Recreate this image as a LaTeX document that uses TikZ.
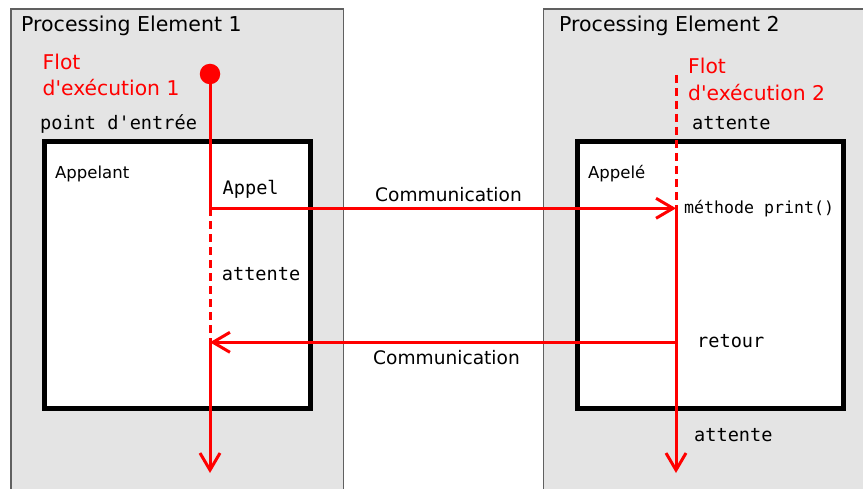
\documentclass[tikz,border=0pt]{standalone}
\usepackage{fontspec}
\setmainfont{DejaVu Sans}
\setmonofont{DejaVu Sans Mono}
\usetikzlibrary{arrows.meta, positioning, calc}
\definecolor{pegray}{HTML}{E4E4E4}
\definecolor{peborder}{HTML}{606060}

\begin{document}
\begin{tikzpicture}[x=1pt, y=-1pt, >={Straight Barb[length=17pt, width=20pt]},
  pe/.style={draw=peborder, fill=pegray, line width=1.3pt, minimum width=#1, minimum height=520pt, inner sep=0pt},
  objbox/.style={draw=black, fill=white, line width=5pt, minimum width=266.5pt, minimum height=266pt, inner sep=0pt},
  title/.style={anchor=base west, inner sep=0pt, font=\fontsize{20.5pt}{24pt}\selectfont},
  flot/.style={anchor=base west, inner sep=0pt, align=left, text=red, font=\fontsize{20.3pt}{26.5pt}\selectfont},
  objname/.style={anchor=base west, inner sep=0pt, font=\fontsize{16.5pt}{19pt}\selectfont},
  lbl/.style={anchor=base west, inner sep=0pt, font=\ttfamily\fontsize{18.6pt}{22pt}\selectfont},
  comm/.style={anchor=base west, inner sep=0pt, font=\fontsize{18.6pt}{22pt}\selectfont},
  flow/.style={draw=red, line width=3pt},
  wait/.style={flow, dash pattern=on 8pt off 5pt}]
\clip (0,0) rectangle (863,489);
% processing elements
\node[pe=332.3pt] (pe1) at (177.2,269) {};
\node[pe=360pt] (pe2) at (723.3,269) {};
\node[title] (pe1t) at (21,32) {Processing Element 1};
\node[title] (pe2t) at (559,32) {Processing Element 2};
% objets
\node[objbox] (caller) at (177.25,275) {};
\node[objbox] (callee) at (710.5,275) {};
\node[objname] (callert) at (55,179) {Appelant};
\node[objname] (calleet) at (588,179) {Appelé};
% flot 1
\node[flot] (flot1) at (42.5,95.7) {Flot\\d\textquotesingle exécution 1};
\node[circle, fill=red, minimum size=20.5pt, inner sep=0pt] (start1) at (210,74) {};
\coordinate (call1) at (210,208.3);
\coordinate (back1) at (210,342.3);
\coordinate (end1) at (210,473);
\draw[flow] (start1.center) -- (call1);
\draw[wait] (call1) -- (back1);
\draw[flow, ->] (back1) -- (end1);
% flot 2
\node[flot] (flot2) at (688,100.5) {Flot\\d\textquotesingle exécution 2};
\coordinate (top2) at (676,75);
\coordinate (recv2) at (676,208.3);
\coordinate (ret2) at (676,342.3);
\coordinate (end2) at (676,473);
\draw[wait] (top2) -- (recv2);
\draw[flow, ->] (recv2) -- (end2);
% communications
\draw[flow, ->] (call1) -- (recv2);
\draw[flow, ->] (ret2) -- (back1);
\node[comm] (comm1) at (375,201.5) {Communication};
\node[comm] (comm2) at (373,364) {Communication};
% etiquettes
\node[lbl] (entry) at (40,130) {point d'entrée};
\node[lbl] (appel) at (222.5,195) {Appel};
\node[lbl] (att1) at (221.7,280.7) {attente};
\node[lbl] (att2) at (692,130) {attente};
\node[lbl, font=\ttfamily\fontsize{16.6pt}{20pt}\selectfont] (meth) at (684,213.3) {méthode print()};
\node[lbl] (retour) at (697,348) {retour};
\node[lbl] (att3) at (694,441.7) {attente};
\end{tikzpicture}
\end{document}
